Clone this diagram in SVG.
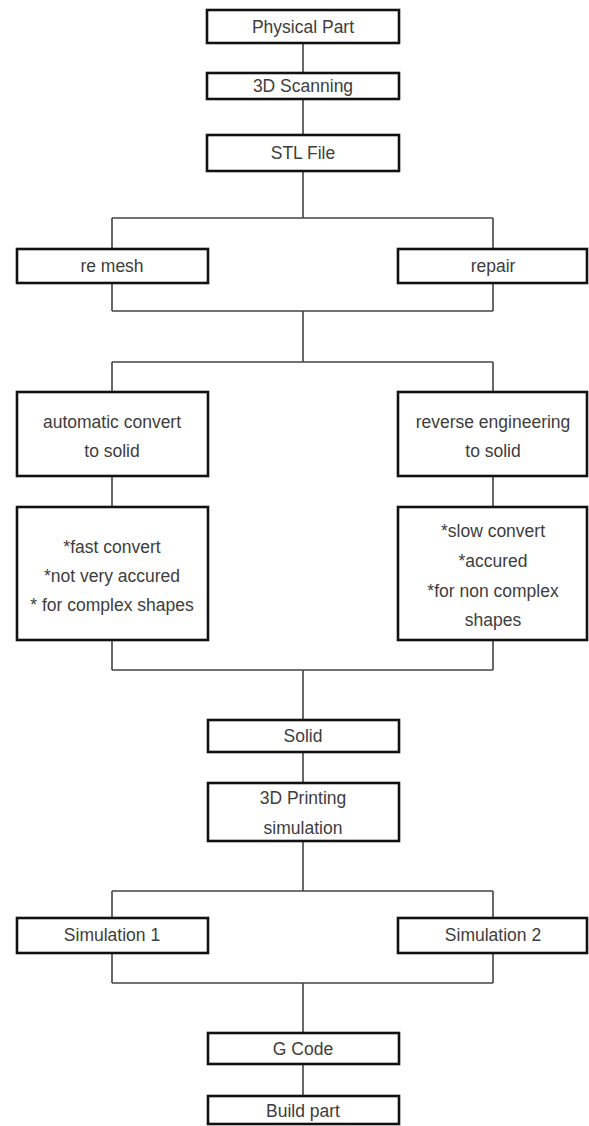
<svg xmlns="http://www.w3.org/2000/svg" width="589" height="1126" viewBox="0 0 589 1126">
<style>
.box{fill:#fff;stroke:#111;stroke-width:2.6}
.c{fill:none;stroke:#444;stroke-width:1.6}
text{font-family:"Liberation Sans",Arial,sans-serif;font-size:17.5px;fill:#3d3d3d;text-anchor:middle;dominant-baseline:central}
</style>
<rect width="589" height="1126" fill="#fff"/>
<g id="connectors">
<path class="c" d="M303 43V73M303 99V135M303 171V218M112 218H493M112 218V249M493 218V249M112 283V311M493 283V311M112 311H493M303 311V362M112 362H493M112 362V392M493 362V392M112 476V507M493 476V507M112 640V670M493 640V670M112 670H493M303 670V720M303 752V783M303 841V891M112 891H493M112 891V918M493 891V918M112 953V983M493 953V983M112 983H493M303 983V1033M303 1064V1096"/>
</g>
<g id="physical-part"><rect class="box" x="207" y="10" width="192" height="33"/><text x="303" y="27">Physical Part</text></g>
<g id="scanning"><rect class="box" x="207" y="73" width="192" height="26"/><text x="303" y="86">3D Scanning</text></g>
<g id="stl-file"><rect class="box" x="207" y="135" width="192" height="36"/><text x="303" y="153">STL File</text></g>
<g id="remesh"><rect class="box" x="17" y="249" width="191" height="34"/><text x="112" y="266">re mesh</text></g>
<g id="repair"><rect class="box" x="398" y="249" width="189" height="34"/><text x="493" y="266">repair</text></g>
<g id="auto-convert"><rect class="box" x="17" y="392" width="191" height="84"/><text x="112" y="422">automatic convert</text><text x="112" y="451">to solid</text></g>
<g id="reverse-eng"><rect class="box" x="398" y="392" width="189" height="84"/><text x="493" y="422">reverse engineering</text><text x="493" y="451">to solid</text></g>
<g id="auto-notes"><rect class="box" x="17" y="507" width="191" height="133"/><text x="112" y="547">*fast convert</text><text x="112" y="576">*not very accured</text><text x="112" y="605">* for complex shapes</text></g>
<g id="reverse-notes"><rect class="box" x="398" y="507" width="189" height="133"/><text x="493" y="531">*slow convert</text><text x="493" y="561">*accured</text><text x="493" y="591">*for non complex</text><text x="493" y="620">shapes</text></g>
<g id="solid"><rect class="box" x="208" y="720" width="191" height="32"/><text x="303" y="736">Solid</text></g>
<g id="printing-sim"><rect class="box" x="208" y="783" width="191" height="58"/><text x="303" y="798">3D Printing</text><text x="303" y="828">simulation</text></g>
<g id="sim1"><rect class="box" x="17" y="918" width="191" height="35"/><text x="112" y="935">Simulation 1</text></g>
<g id="sim2"><rect class="box" x="398" y="918" width="189" height="35"/><text x="493" y="935">Simulation 2</text></g>
<g id="gcode"><rect class="box" x="208" y="1033" width="191" height="31"/><text x="303" y="1049">G Code</text></g>
<g id="build-part"><rect class="box" x="208" y="1096" width="191" height="28"/><text x="303" y="1111">Build part</text></g>
</svg>
